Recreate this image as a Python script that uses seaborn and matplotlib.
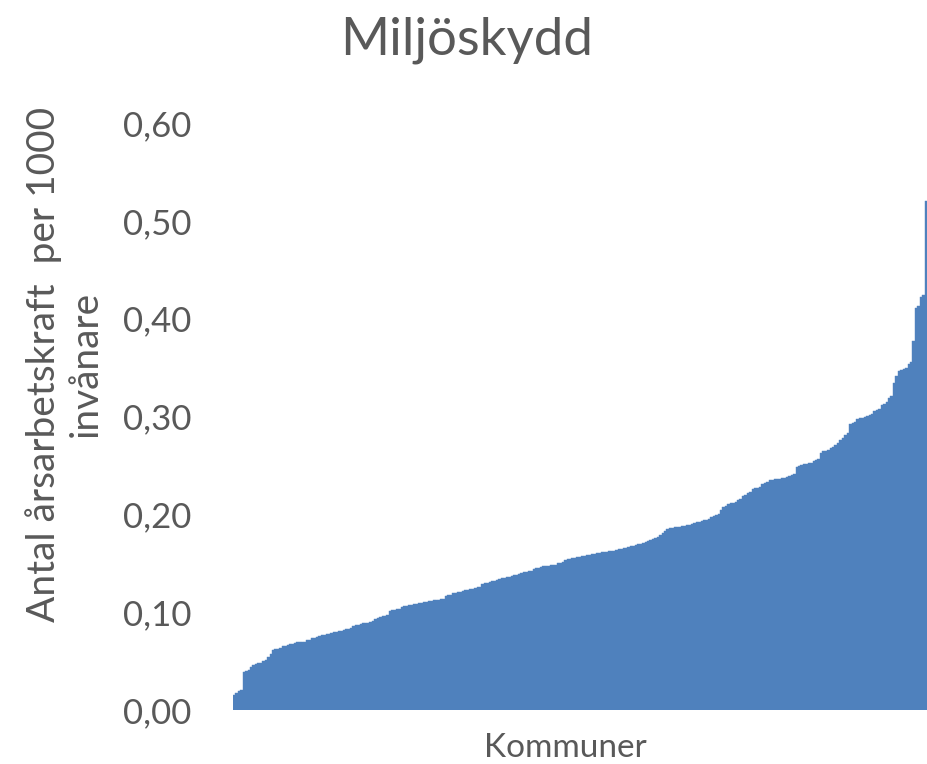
import matplotlib
matplotlib.use("Agg")
import matplotlib.pyplot as plt
import pandas as pd
import seaborn as sns

# ---- data: one value per kommun, sorted ascending ----
values = [
    0.015, 0.017, 0.019, 0.020, 0.039, 0.040, 0.041, 0.044, 0.046, 0.047,
    0.048, 0.048, 0.050, 0.051, 0.054, 0.057, 0.061, 0.062, 0.062, 0.063,
    0.065, 0.065, 0.066, 0.067, 0.067, 0.068, 0.069, 0.069, 0.070, 0.070,
    0.072, 0.072, 0.074, 0.074, 0.075, 0.076, 0.077, 0.077, 0.078, 0.078,
    0.079, 0.080, 0.080, 0.081, 0.081, 0.082, 0.083, 0.083, 0.084, 0.086,
    0.087, 0.087, 0.088, 0.089, 0.089, 0.089, 0.090, 0.091, 0.093, 0.094,
    0.095, 0.096, 0.096, 0.097, 0.101, 0.102, 0.102, 0.103, 0.103, 0.105,
    0.106, 0.106, 0.107, 0.107, 0.108, 0.108, 0.109, 0.109, 0.110, 0.110,
    0.111, 0.111, 0.112, 0.112, 0.112, 0.113, 0.113, 0.117, 0.118, 0.118,
    0.120, 0.120, 0.121, 0.121, 0.122, 0.123, 0.123, 0.124, 0.124, 0.125,
    0.126, 0.126, 0.129, 0.130, 0.130, 0.131, 0.132, 0.132, 0.133, 0.134,
    0.135, 0.135, 0.136, 0.136, 0.137, 0.138, 0.138, 0.139, 0.140, 0.141,
    0.141, 0.142, 0.142, 0.144, 0.145, 0.145, 0.146, 0.147, 0.147, 0.147,
    0.148, 0.148, 0.148, 0.150, 0.150, 0.151, 0.153, 0.154, 0.154, 0.155,
    0.155, 0.156, 0.156, 0.157, 0.157, 0.158, 0.158, 0.159, 0.159, 0.160,
    0.160, 0.161, 0.162, 0.162, 0.163, 0.163, 0.163, 0.164, 0.165, 0.165,
    0.166, 0.166, 0.167, 0.168, 0.168, 0.169, 0.170, 0.170, 0.171, 0.172,
    0.173, 0.174, 0.175, 0.176, 0.177, 0.179, 0.181, 0.183, 0.185, 0.186,
    0.186, 0.187, 0.187, 0.187, 0.188, 0.188, 0.189, 0.189, 0.190, 0.191,
    0.192, 0.192, 0.193, 0.194, 0.194, 0.195, 0.197, 0.198, 0.199, 0.200,
    0.204, 0.207, 0.209, 0.211, 0.212, 0.212, 0.213, 0.215, 0.216, 0.219,
    0.220, 0.222, 0.223, 0.226, 0.227, 0.227, 0.228, 0.231, 0.232, 0.233,
    0.235, 0.235, 0.236, 0.236, 0.236, 0.237, 0.237, 0.238, 0.239, 0.240,
    0.241, 0.248, 0.249, 0.250, 0.251, 0.251, 0.252, 0.252, 0.255, 0.256,
    0.257, 0.263, 0.265, 0.265, 0.266, 0.268, 0.269, 0.271, 0.273, 0.276,
    0.278, 0.281, 0.283, 0.292, 0.293, 0.294, 0.297, 0.298, 0.298, 0.299,
    0.301, 0.302, 0.303, 0.306, 0.307, 0.308, 0.312, 0.313, 0.315, 0.319,
    0.321, 0.334, 0.341, 0.346, 0.348, 0.349, 0.350, 0.354, 0.356, 0.377,
    0.411, 0.413, 0.422, 0.424, 0.520,
]
kommuner = list(range(1, len(values) + 1))
yticks = [0.0, 0.1, 0.2, 0.3, 0.4, 0.5, 0.6]
ytick_labels = ["0,00", "0,10", "0,20", "0,30", "0,40", "0,50", "0,60"]

df = pd.DataFrame({"kommun": kommuner, "varde": values})

sns.set_theme(style="white")
plt.rcParams["font.family"] = ["Lato", "DejaVu Sans"]

bar_color = "#4F81BD"
text_color = "#595959"

fig = plt.figure(figsize=(9.27, 7.64), dpi=100)
ax = fig.add_axes([233 / 927, 1 - 710 / 764, 1 - 233 / 927, (710 - 123) / 764])

sns.barplot(data=df, x="kommun", y="varde", color=bar_color, saturation=1,
            width=1.0, edgecolor=bar_color, linewidth=0.3, ax=ax)

ax.set_xlim(-0.5, len(values) - 0.5)
ax.set_ylim(0, 0.6)
ax.set_xticks([])
ax.set_yticks(yticks)
ax.set_yticklabels(ytick_labels, fontsize=25, color=text_color)
ax.tick_params(axis="y", length=0, pad=30)
ax.set_xlabel("")
ax.set_ylabel("")
sns.despine(ax=ax, left=True, bottom=True)

fig.text(467 / 927, 1 - 55 / 764, "Miljöskydd", ha="center", va="baseline",
         fontsize=38, color=text_color)
fig.text(565 / 927, 1 - 757 / 764, "Kommuner", ha="center", va="baseline",
         fontsize=24, color=text_color)
fig.text(64 / 927, 1 - 364 / 764, "Antal årsarbetskraft  per 1000\ninvånare",
         rotation=90, ha="center", va="center", multialignment="center",
         fontsize=28, color=text_color, linespacing=1.2)

fig.savefig("out.png", dpi=100)
